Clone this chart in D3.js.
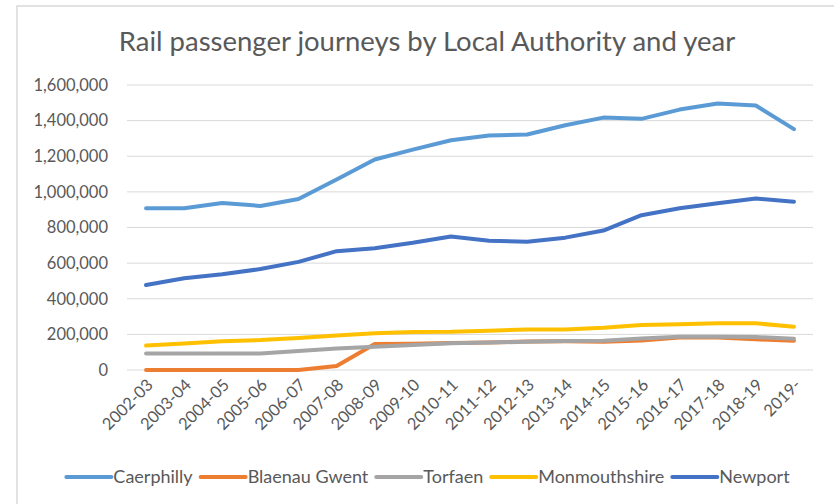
<!DOCTYPE html>
<html>
<head>
<meta charset="utf-8">
<script src="https://cdn.jsdelivr.net/npm/d3@7"></script>
<style>
  html, body { margin: 0; padding: 0; background: #fff; }
  svg { display: block; font-family: Lato, "Open Sans", sans-serif; }
</style>
</head>
<body>
<div class="container"></div>
<script>
const years = ["2002-03", "2003-04", "2004-05", "2005-06", "2006-07", "2007-08", "2008-09", "2009-10",
  "2010-11", "2011-12", "2012-13", "2013-14", "2014-15", "2015-16", "2016-17", "2017-18", "2018-19", "2019-"];

const caerphilly = [908000, 908000, 937000, 921000, 960000, 1070000, 1182000, 1237000, 1290000, 1317000,
  1322000, 1374000, 1417000, 1410000, 1462000, 1496000, 1485000, 1352000];
const blaenauGwent = [0, 0, 0, 0, 0, 22000, 146000, 147000, 152000, 155000,
  160000, 161000, 158000, 166000, 182000, 183000, 172000, 164000];
const torfaen = [92000, 92000, 92000, 92000, 107000, 121000, 131000, 141000, 150000, 154000,
  159000, 163000, 164000, 177000, 186000, 187000, 185000, 176000];
const monmouthshire = [137000, 149000, 162000, 168000, 180000, 194000, 206000, 214000, 215000, 221000,
  227000, 228000, 237000, 252000, 257000, 262000, 262000, 243000];
const newport = [477000, 515000, 537000, 567000, 607000, 667000, 684000, 714000, 749000, 726000,
  720000, 743000, 783000, 869000, 908000, 936000, 963000, 944000];

const seriesNames = ["Caerphilly", "Blaenau Gwent", "Torfaen", "Monmouthshire", "Newport"];
const seriesValues = [caerphilly, blaenauGwent, torfaen, monmouthshire, newport];
const seriesColors = ["#5B9BD5", "#ED7D31", "#A5A5A5", "#FFC000", "#4472C4"];
const yTicks = [0, 200000, 400000, 600000, 800000, 1000000, 1200000, 1400000, 1600000];

const W = 834, H = 504;
const margin = { top: 85, right: 21, bottom: 134, left: 127 };
const width = W - margin.left - margin.right;
const height = H - margin.top - margin.bottom;
const textColor = "#595959";

const svg = d3.select(".container").append("svg")
  .attr("width", W)
  .attr("height", H);

// chart frame
svg.append("rect")
  .attr("x", 17).attr("y", 6)
  .attr("width", 840).attr("height", 520)
  .attr("fill", "none")
  .attr("stroke", "#D9D9D9")
  .attr("stroke-width", 1.5);

svg.append("text")
  .attr("x", 427).attr("y", 51)
  .attr("text-anchor", "middle")
  .attr("fill", textColor)
  .attr("font-size", 27.5)
  .text("Rail passenger journeys by Local Authority and year");

const g = svg.append("g").attr("transform", `translate(${margin.left},${margin.top})`);

const x = d3.scaleBand().domain(years).range([0, width]);
const y = d3.scaleLinear().domain([0, 1600000]).range([height, 0]);

// gridlines
g.selectAll(".grid").data(yTicks).enter().append("line")
  .attr("x1", 0).attr("x2", width)
  .attr("y1", d => y(d)).attr("y2", d => y(d))
  .attr("stroke", "#D9D9D9")
  .attr("stroke-width", 1);

// y axis
const yAxis = g.append("g")
  .call(d3.axisLeft(y).tickValues(yTicks).tickFormat(d3.format(",")).tickSize(0).tickPadding(19));
yAxis.select(".domain").remove();
yAxis.selectAll("text").attr("fill", textColor).attr("font-size", 16.5).attr("font-family", "Lato, sans-serif");

// x axis
const xAxis = g.append("g")
  .attr("transform", `translate(0,${height})`)
  .call(d3.axisBottom(x).tickSize(0).tickPadding(0));
xAxis.select(".domain").remove();
xAxis.selectAll("text")
  .attr("fill", textColor)
  .attr("font-size", 16.5)
  .attr("font-family", "Lato, sans-serif")
  .attr("text-anchor", "end")
  .attr("dy", "0")
  .attr("transform", "translate(8,16) rotate(-45)");

// lines
const line = d3.line()
  .x((d, i) => x(years[i]) + x.bandwidth() / 2)
  .y(d => y(d));

g.selectAll(".series").data(seriesValues).enter().append("path")
  .attr("class", "series")
  .attr("d", d => line(d))
  .attr("fill", "none")
  .attr("stroke", (d, i) => seriesColors[i])
  .attr("stroke-width", 4)
  .attr("stroke-linejoin", "round")
  .attr("stroke-linecap", "round");

// legend
const legend = svg.append("g").attr("transform", "translate(0,477)");
const items = legend.selectAll(".item").data(seriesNames).enter().append("g").attr("class", "item");
items.append("line")
  .attr("x1", 0).attr("x2", 45)
  .attr("stroke", (d, i) => seriesColors[i])
  .attr("stroke-width", 4)
  .attr("stroke-linecap", "round");
items.append("text")
  .attr("x", 47).attr("dy", "0.35em")
  .attr("fill", textColor)
  .attr("font-size", 18)
  .text(d => d);

let pos = 0;
const offsets = [];
items.each(function () {
  const w = this.querySelector("text").getComputedTextLength() + 47;
  offsets.push(pos);
  pos += w + 8;
});
const total = pos - 8;
const start = 428 - total / 2;
items.attr("transform", (d, i) => `translate(${start + offsets[i]},0)`);
</script>
</body>
</html>
